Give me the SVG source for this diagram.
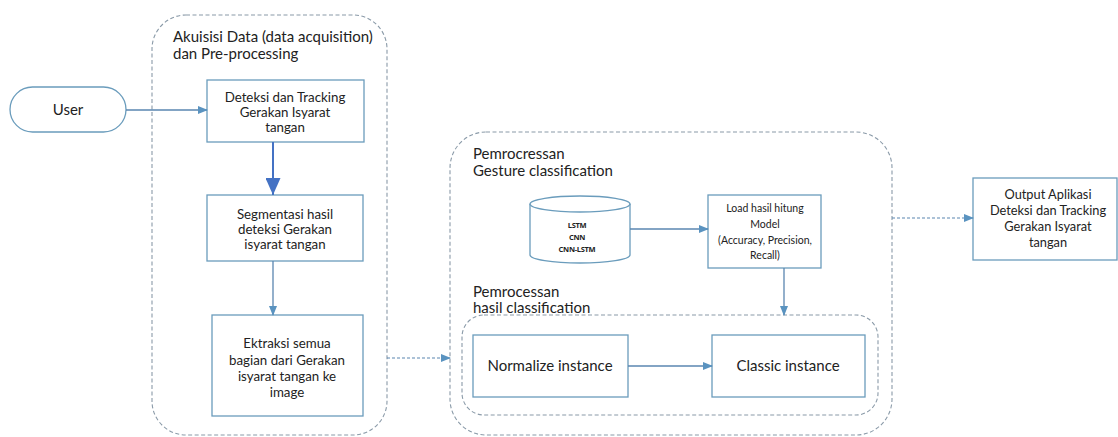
<svg xmlns="http://www.w3.org/2000/svg" width="1118" height="437" viewBox="0 0 1118 437">
<defs>
<style>
.box{fill:#fff;stroke:#6a9cbc;stroke-width:1.3}
.cont{fill:none;stroke:#8a9aa8;stroke-width:1.1;stroke-dasharray:4 2.5}
.t{font-family:Lato,"Open Sans",sans-serif;font-size:13.3px;fill:#222;text-anchor:middle}
.h{font-family:Lato,"Open Sans",sans-serif;font-size:15px;fill:#222}
.s{font-family:"Open Sans",sans-serif;font-size:7.5px;font-weight:bold;fill:#222;text-anchor:middle;letter-spacing:-0.3px}
.c{fill:none;stroke:#5a86b0;stroke-width:1.3}
.d{fill:none;stroke:#5a86b0;stroke-width:1.1;stroke-dasharray:3 2}
</style>
<marker id="a" markerWidth="10" markerHeight="8" refX="9" refY="4" orient="auto" markerUnits="userSpaceOnUse">
<path d="M0,0 L10,4 L0,8 Z" fill="#5a93c0"/>
</marker>
<marker id="b" markerWidth="18" markerHeight="15" refX="17" refY="7.5" orient="auto" markerUnits="userSpaceOnUse">
<path d="M0,0 L17,7.5 L0,15 Z" fill="#4472c4"/>
</marker>
</defs>
<rect width="1118" height="437" fill="#fff"/>

<g id="container-akuisisi">
<rect class="cont" x="152" y="15" width="235" height="420" rx="34"/>
<text class="h" x="173" y="42">Akuisisi Data (data acquisition)</text>
<text class="h" x="173" y="59">dan Pre-processing</text>
</g>
<g id="container-gesture">
<rect class="cont" x="450" y="132" width="442" height="303" rx="36"/>
<text class="h" x="473" y="159">Pemrocressan</text>
<text class="h" x="473" y="176">Gesture classification</text>
</g>
<g id="container-hasil">
<rect class="cont" x="462" y="315" width="416" height="100" rx="22"/>
<text class="h" x="473" y="297">Pemrocessan</text>
<text class="h" x="473" y="313">hasil classification</text>
</g>

<g id="user">
<rect class="box" x="10" y="87" width="116" height="45" rx="22.5"/>
<text class="t" x="68" y="115" style="font-size:15px">User</text>
</g>
<g id="deteksi">
<rect class="box" x="207" y="80" width="157" height="62"/>
<text class="t" x="285" y="102">Deteksi dan Tracking</text>
<text class="t" x="285" y="117">Gerakan Isyarat</text>
<text class="t" x="285" y="132">tangan</text>
</g>
<g id="segmentasi">
<rect class="box" x="207" y="195" width="156" height="66"/>
<text class="t" x="285" y="219">Segmentasi hasil</text>
<text class="t" x="285" y="234">deteksi Gerakan</text>
<text class="t" x="285" y="249">isyarat tangan</text>
</g>
<g id="ektraksi">
<rect class="box" x="212" y="315" width="151" height="101"/>
<text class="t" x="287" y="348">Ektraksi semua</text>
<text class="t" x="287" y="365">bagian dari Gerakan</text>
<text class="t" x="287" y="381">isyarat tangan ke</text>
<text class="t" x="287" y="397">image</text>
</g>
<g id="database">
<path class="box" d="M530,204 L530,255 A50,8 0 0 0 630,255 L630,204"/>
<ellipse class="box" cx="580" cy="204" rx="50" ry="8"/>
<text class="s" x="577" y="228">LSTM</text>
<text class="s" x="577" y="240">CNN</text>
<text class="s" x="577" y="252">CNN-LSTM</text>
</g>
<g id="load">
<rect class="box" x="708" y="195" width="113" height="73"/>
<text class="t" x="765" y="212" style="font-size:10.5px">Load hasil hitung</text>
<text class="t" x="765" y="228" style="font-size:10.5px">Model</text>
<text class="t" x="765" y="244" style="font-size:10.5px">(Accuracy, Precision,</text>
<text class="t" x="765" y="259" style="font-size:10.5px">Recall)</text>
</g>
<g id="normalize">
<rect class="box" x="473" y="335" width="155" height="62"/>
<text class="t" x="550" y="371" style="font-size:15px">Normalize instance</text>
</g>
<g id="classic">
<rect class="box" x="712" y="335" width="153" height="62"/>
<text class="t" x="788" y="371" style="font-size:15px">Classic instance</text>
</g>
<g id="output">
<rect class="box" x="973" y="178" width="144" height="82"/>
<text class="t" x="1048" y="199" style="font-size:12.8px">Output Aplikasi</text>
<text class="t" x="1048" y="215" style="font-size:12.8px">Deteksi dan Tracking</text>
<text class="t" x="1048" y="231" style="font-size:12.8px">Gerakan Isyarat</text>
<text class="t" x="1048" y="247" style="font-size:12.8px">tangan</text>
</g>

<g id="connectors">
<line class="c" x1="126" y1="110" x2="207" y2="110" marker-end="url(#a)"/>
<line x1="273" y1="142" x2="273" y2="195" stroke="#4472c4" stroke-width="2" marker-end="url(#b)"/>
<line class="c" x1="273" y1="261" x2="273" y2="315" marker-end="url(#a)"/>
<line class="d" x1="387" y1="358" x2="450" y2="358" marker-end="url(#a)"/>
<line class="c" x1="630" y1="229" x2="708" y2="229" marker-end="url(#a)"/>
<line class="c" x1="784" y1="268" x2="784" y2="315" marker-end="url(#a)"/>
<line class="c" x1="628" y1="366" x2="712" y2="366" marker-end="url(#a)"/>
<line class="d" x1="892" y1="218" x2="973" y2="218" marker-end="url(#a)"/>
</g>
</svg>
